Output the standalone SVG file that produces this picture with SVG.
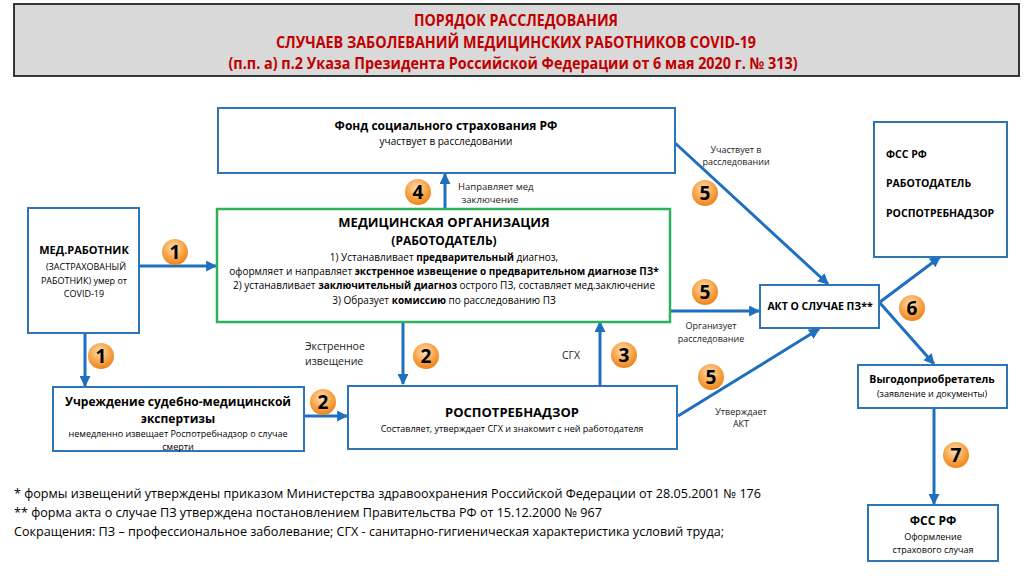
<svg xmlns="http://www.w3.org/2000/svg" width="1024" height="576" viewBox="0 0 1024 576">
<style>
text{font-family:"Open Sans","DejaVu Sans",sans-serif;fill:#000}
.t{fill:#c00000;font-weight:bold;font-size:16px;text-anchor:middle}
.box{fill:#fff;stroke:#2e75b6;stroke-width:2}
.green{fill:#fff;stroke:#2fb05a;stroke-width:2.5}
.b{font-weight:bold}
.c{text-anchor:middle}
.s10{font-size:10px}
.s9{font-size:9px}
.s12{font-size:12px}
.s13{font-size:13px}
.lbl{font-size:9.5px;fill:#222}
.con line,.con path{stroke:#1f6fbf;stroke-width:3;fill:none;marker-end:url(#ah)}
.badge circle{fill:url(#og)}
.badge text{font-weight:bold;font-size:19px;text-anchor:middle}
.foot{font-size:12.6px}
</style>
<defs>
<marker id="ah" viewBox="0 0 10 10" refX="9" refY="5" markerWidth="11" markerHeight="11" markerUnits="userSpaceOnUse" orient="auto">
<path d="M0,0 L10,5 L0,10 z" fill="#1f6fbf"/>
</marker>
<radialGradient id="og" cx="0.45" cy="0.35" r="0.7">
<stop offset="0" stop-color="#fde0b8"/>
<stop offset="0.55" stop-color="#f8a64a"/>
<stop offset="1" stop-color="#ec7c12"/>
</radialGradient>
</defs>
<rect width="1024" height="576" fill="#fff"/>

<g id="title">
<rect x="14" y="4" width="1005" height="72" fill="#d9d9d9" stroke="#222" stroke-width="1.8"/>
<text class="t" x="516" y="26" textLength="204" lengthAdjust="spacingAndGlyphs">ПОРЯДОК РАССЛЕДОВАНИЯ</text>
<text class="t" x="516" y="48" textLength="480" lengthAdjust="spacingAndGlyphs">СЛУЧАЕВ ЗАБОЛЕВАНИЙ МЕДИЦИНСКИХ РАБОТНИКОВ COVID-19</text>
<text class="t" x="513" y="69" textLength="569" lengthAdjust="spacingAndGlyphs">(п.п. а)  п.2 Указа Президента Российской Федерации от 6 мая 2020 г. № 313)</text>
</g>

<g class="con">
<line x1="445" y1="209" x2="445" y2="174"/>
<line x1="139" y1="266" x2="216" y2="266"/>
<line x1="85" y1="333" x2="85" y2="386"/>
<line x1="304" y1="416" x2="347" y2="416"/>
<line x1="403" y1="322" x2="403" y2="384"/>
<line x1="600" y1="386" x2="600" y2="322"/>
<line x1="675" y1="143" x2="828" y2="284"/>
<line x1="671" y1="311" x2="759" y2="311"/>
<line x1="678" y1="416" x2="819" y2="329"/>
<line x1="880" y1="302" x2="940" y2="257"/>
<line x1="880" y1="303" x2="934" y2="364"/>
<line x1="934" y1="408" x2="934" y2="504"/>
</g>

<g id="fss">
<rect class="box" x="218" y="108" width="457" height="65"/>
<text class="b c s12" x="446" y="130">Фонд социального страхования РФ</text>
<text class="c s10" x="446" y="145">участвует в расследовании</text>
</g>

<g id="medorg">
<rect class="green" x="217" y="209" width="453" height="113"/>
<text class="b c s13" x="444" y="227">МЕДИЦИНСКАЯ ОРГАНИЗАЦИЯ</text>
<text class="b c" style="font-size:12px" x="444" y="245">(РАБОТОДАТЕЛЬ)</text>
<text class="c s10" x="444" y="261">1) Устанавливает <tspan class="b">предварительный</tspan> диагноз,</text>
<text class="c s10" x="444" y="275">оформляет и направляет <tspan class="b">экстренное извещение о предварительном диагнозе ПЗ*</tspan></text>
<text class="c s10" x="444" y="289">2) устанавливает <tspan class="b">заключительный диагноз</tspan> острого ПЗ, составляет мед.заключение</text>
<text class="c s10" x="444" y="304">3) Образует <tspan class="b">комиссию</tspan> по расследованию ПЗ</text>
</g>

<g id="medworker">
<rect class="box" x="28" y="208" width="111" height="125"/>
<text class="b c" style="font-size:11px" x="84" y="254">МЕД.РАБОТНИК</text>
<text class="c s9" x="86" y="270">(ЗАСТРАХОВАНЫЙ</text>
<text class="c s9" x="84" y="284">РАБОТНИК) умер от</text>
<text class="c s9" x="84" y="297">COVID-19</text>
</g>

<g id="expertise">
<rect class="box" x="53" y="387" width="251" height="64"/>
<text class="b c s12" x="178" y="406">Учреждение судебно-медицинской</text>
<text class="b c s12" x="178" y="423">экспертизы</text>
<text class="c s9" x="178" y="437">немедленно извещает Роспотребнадзор о случае</text>
<text class="c s9" x="178" y="450">смерти</text>
</g>

<g id="rospotreb">
<rect class="box" x="348" y="386" width="329" height="63"/>
<text class="b c s13" x="512" y="417">РОСПОТРЕБНАДЗОР</text>
<text class="c s9" x="512" y="432">Составляет, утверждает СГХ и знакомит с ней работодателя</text>
</g>

<g id="akt">
<rect class="box" x="760" y="285" width="119" height="43"/>
<text class="b c" style="font-size:10.5px" x="820" y="310">АКТ О СЛУЧАЕ ПЗ**</text>
</g>

<g id="recipients">
<rect class="box" x="874" y="122" width="133" height="135"/>
<text class="b" style="font-size:10.5px" x="886" y="158">ФСС РФ</text>
<text class="b" style="font-size:10.5px" x="886" y="187">РАБОТОДАТЕЛЬ</text>
<text class="b" style="font-size:10.5px" x="886" y="217">РОСПОТРЕБНАДЗОР</text>
</g>

<g id="beneficiary">
<rect class="box" x="858" y="365" width="149" height="43"/>
<text class="b c" style="font-size:10.5px" x="932" y="383">Выгодоприобретатель</text>
<text class="c s9" x="932" y="397">(заявление и документы)</text>
</g>

<g id="fss2">
<rect class="box" x="868" y="505" width="130" height="56"/>
<text class="b c s12" x="933" y="525">ФСС РФ</text>
<text class="c s9" x="933" y="540">Оформление</text>
<text class="c s9" x="933" y="553">страхового случая</text>
</g>

<g id="labels">
<text class="lbl" x="458" y="190">Направляет мед</text>
<text class="lbl c" x="490" y="203">заключение</text>
<text class="lbl" x="305" y="350" style="font-size:10.5px">Экстренное</text>
<text class="lbl" x="305" y="365" style="font-size:10.5px">извещение</text>
<text class="lbl" x="562" y="359" style="font-size:10.5px">СГХ</text>
<text class="lbl c" x="736" y="153" style="font-size:9px">Участвует в</text>
<text class="lbl c" x="736" y="165" style="font-size:9px">расследовании</text>
<text class="lbl c" x="711" y="329" style="font-size:9px">Организует</text>
<text class="lbl c" x="711" y="342" style="font-size:9px">расследование</text>
<text class="lbl c" x="741" y="415" style="font-size:9px">Утверждает</text>
<text class="lbl c" x="741" y="427" style="font-size:9px">АКТ</text>
</g>

<g id="badges" class="badge">
<g><circle cx="418" cy="192" r="13"/><text x="418" y="199">4</text></g>
<g><circle cx="175" cy="252" r="13"/><text x="175" y="259">1</text></g>
<g><circle cx="101" cy="356" r="13"/><text x="101" y="363">1</text></g>
<g><circle cx="323" cy="402" r="13"/><text x="323" y="409">2</text></g>
<g><circle cx="426" cy="356" r="13"/><text x="426" y="363">2</text></g>
<g><circle cx="624" cy="355" r="13"/><text x="624" y="362">3</text></g>
<g><circle cx="705" cy="193" r="13"/><text x="705" y="200">5</text></g>
<g><circle cx="705" cy="292" r="13"/><text x="705" y="299">5</text></g>
<g><circle cx="711" cy="377" r="13"/><text x="711" y="384">5</text></g>
<g><circle cx="912" cy="308" r="13"/><text x="912" y="315">6</text></g>
<g><circle cx="956" cy="455" r="13"/><text x="956" y="462">7</text></g>
</g>

<g id="footnotes">
<text class="foot" x="14" y="498">* формы извещений утверждены приказом Министерства здравоохранения Российской Федерации от 28.05.2001 № 176</text>
<text class="foot" x="14" y="517">** форма акта о случае ПЗ утверждена постановлением Правительства РФ от 15.12.2000 № 967</text>
<text class="foot" x="14" y="536">Сокращения: ПЗ – профессиональное заболевание; СГХ - санитарно-гигиеническая характеристика условий труда;</text>
</g>
</svg>
